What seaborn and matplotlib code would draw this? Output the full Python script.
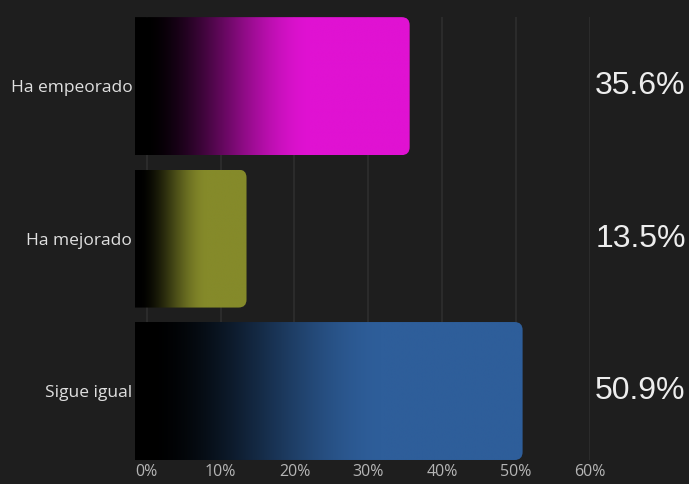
import numpy as np
import pandas as pd
import matplotlib
matplotlib.use("Agg")
import matplotlib.pyplot as plt
import matplotlib.transforms as mtransforms
from matplotlib.patches import FancyBboxPatch
from matplotlib.colors import LinearSegmentedColormap
import seaborn as sns

# datos
categorias = ["Ha empeorado", "Ha mejorado", "Sigue igual"]
valores = [35.6, 13.5, 50.9]
colores = ["#e012d2", "#858a2a", "#2e5e9a"]
ticks_x = [0, 10, 20, 30, 40, 50, 60]

fondo = "#1e1e1e"
df = pd.DataFrame({"categoria": categorias, "valor": valores})

sns.set_style("dark")
plt.rcParams["font.family"] = ["Open Sans", "DejaVu Sans"]

fig = plt.figure(figsize=(6.89, 4.84), dpi=100, facecolor=fondo)
ax = fig.add_axes([0.196, 0.0496, 0.660, 0.915])
ax.set_facecolor(fondo)

sns.barplot(data=df, x="valor", y="categoria", orient="h", width=0.905,
            color="black", ax=ax, zorder=3)

ax.set_xlim(-1.6, 60)
ax.set_ylim(2.4525, -0.4525)

# degradado negro -> color dentro de cada barra, con esquinas redondeadas
x0 = ax.get_xlim()[0]
px_x = (60 - x0) / (0.660 * 689)
px_y = 2.905 / (0.915 * 484)
t = np.linspace(0, 1, 600)
u = np.clip((t - 0.03) / 0.62, 0, 1)
u = u * u * (3 - 2 * u)
grad = np.vstack([u, u])
for patch, val, col in zip(ax.patches, valores, colores):
    patch.set_visible(False)
    yb = patch.get_y()
    h = patch.get_height()
    cmap = LinearSegmentedColormap.from_list("g", ["#000000", col], N=512)
    im = ax.imshow(grad, cmap=cmap, vmin=0, vmax=1,
                   extent=[x0, val, yb + h, yb], aspect="auto",
                   interpolation="bilinear", zorder=3)
    r = 8 * px_x
    caja = FancyBboxPatch((x0 - 3, yb), val - x0 + 3, h,
                          boxstyle=f"round,pad=0,rounding_size={r}",
                          mutation_aspect=px_y / px_x,
                          transform=ax.transData, facecolor="none",
                          edgecolor="none")
    ax.add_patch(caja)
    im.set_clip_path(caja)

ax.set_aspect("auto")
ax.set_xlim(-1.6, 60)
ax.set_ylim(2.4525, -0.4525)

# rejilla
for xv in ticks_x:
    ax.axvline(xv, color="#2c2c2c", lw=1.4, zorder=1)
ax.grid(False)

ax.set_xticks(ticks_x)
ax.set_xticklabels([f"{v}%" for v in ticks_x], color="#b5b5b5", fontsize=11.5)
ax.tick_params(axis="x", length=0, pad=3)
ax.tick_params(axis="y", length=0, pad=2, labelsize=12.5, labelcolor="#e0e0e0")
ax.set_xlabel("")
ax.set_ylabel("")
for s in ax.spines.values():
    s.set_visible(False)

# etiquetas de porcentaje a la derecha
trans = mtransforms.blended_transform_factory(ax.transAxes, ax.transData)
for i, val in enumerate(valores):
    ax.text(1.012, i, f"{val}%", transform=trans, ha="left", va="center",
            fontsize=23, color="#ededed", family=["Liberation Sans", "DejaVu Sans"])

fig.savefig("out.png", dpi=100, facecolor=fondo)
